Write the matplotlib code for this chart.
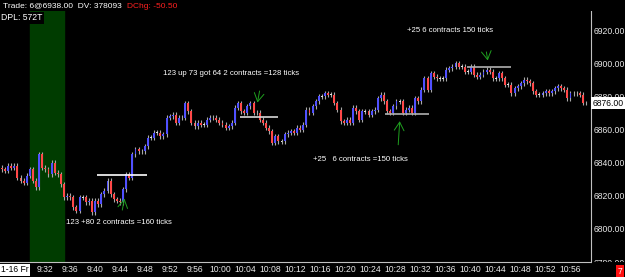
import matplotlib
matplotlib.use("Agg")
import matplotlib.pyplot as plt
from matplotlib.patches import Rectangle

# closing price of each tick bar left to right
closes = [6836, 6835, 6838, 6837, 6838, 6831, 6829, 6828, 6832, 6836,
          6829, 6825, 6845, 6837, 6836, 6833, 6840, 6834, 6833, 6827,
          6819, 6820, 6819, 6813, 6811, 6819, 6819, 6816, 6817, 6810,
          6817, 6815, 6821, 6823, 6829, 6821, 6818, 6817, 6816, 6824,
          6833, 6831, 6845, 6848, 6847, 6847, 6850, 6855, 6855, 6858,
          6858, 6856, 6857, 6867, 6868, 6869, 6864, 6867, 6867, 6876,
          6871, 6864, 6862, 6864, 6863, 6863, 6866, 6867, 6867, 6866,
          6864, 6863, 6861, 6862, 6864, 6873, 6876, 6871, 6870, 6874,
          6876, 6870, 6870, 6866, 6864, 6861, 6859, 6852, 6856, 6853,
          6853, 6857, 6858, 6859, 6858, 6861, 6860, 6863, 6872, 6870,
          6874, 6877, 6880, 6880, 6882, 6881, 6881, 6876, 6872, 6865,
          6864, 6866, 6864, 6873, 6871, 6866, 6871, 6871, 6869, 6871,
          6872, 6879, 6881, 6877, 6871, 6870, 6874, 6877, 6877, 6870,
          6872, 6873, 6870, 6879, 6877, 6884, 6891, 6884, 6894, 6892,
          6891, 6891, 6891, 6896, 6897, 6898, 6900, 6898, 6898, 6895,
          6895, 6898, 6893, 6892, 6893, 6895, 6896, 6895, 6891, 6891,
          6894, 6891, 6887, 6887, 6882, 6885, 6886, 6888, 6890, 6889,
          6888, 6883, 6881, 6881, 6882, 6883, 6882, 6883, 6885, 6886,
          6885, 6884, 6879, 6882, 6882, 6882, 6881, 6876, 6876]
first_open = 6837
wick = 1.5

price_ticks = [6780, 6800, 6820, 6840, 6860, 6880, 6900, 6920]
time_labels = ["9:32", "9:36", "9:40", "9:44", "9:48", "9:52", "9:56", "10:00",
               "10:04", "10:08", "10:12", "10:16", "10:20", "10:24", "10:28",
               "10:32", "10:36", "10:40", "10:44", "10:48", "10:52", "10:56"]
time_bars = [13.8, 21.9, 29.9, 38.0, 46.0, 54.1, 62.1, 70.2, 78.2, 86.3, 94.3,
             102.4, 110.4, 118.5, 126.5, 134.6, 142.6, 150.7, 158.7, 166.8,
             174.8, 182.9]

# trade markers: (level, first bar, last bar, colour)
levels = [(6832.5, 30.6, 46.7, "#ffffff"),
          (6867.3, 76.6, 88.9, "#d8d8d8"),
          (6869.1, 123.3, 137.5, "#b0b0b0"),
          (6897.6, 149.7, 163.9, "#b0b0b0")]
notes = [("123 +80 2 contracts =160 ticks", 20.6, 6803.7),
         ("123 up 73 got 64 2 contracts =128 ticks", 51.8, 6894.0),
         ("+25   6 contracts =150 ticks", 100.1, 6841.8),
         ("+25 6 contracts 150 ticks", 130.4, 6920.0)]
# arrows: (tail bar, tail price, tip bar, tip price)
arrows = [(38.6, 6809.7, 39.6, 6820.0),
          (83.1, 6884.9, 82.1, 6874.6),
          (127.5, 6849.1, 128.1, 6866.7),
          (155.8, 6908.5, 156.5, 6900.0)]

last_price = 6876.00
font = "Liberation Sans"

fig = plt.figure(figsize=(6.25, 2.77), dpi=100, facecolor="black")
ax = fig.add_axes([0, 15 / 277, 591 / 625, 262 / 277], facecolor="black")

n = len(closes)
opens = [first_open] + closes[:-1]
xs = list(range(n))

# session shading
ax.axvspan(8.9, 20.0, color="#003c00", zorder=0)

for i in xs:
    o, c = opens[i], closes[i]
    top, bot = max(o, c), min(o, c)
    ax.vlines(i, bot - wick, top + wick, color="#a8a8a8", lw=0.8, zorder=2)
    if c > o:
        col = "#5050ff"
    elif c < o:
        col = "#ff4848"
    else:
        col = "#e0e0e0"
    h = max(top - bot, 0.5)
    ax.bar(i, h, bottom=bot - (0.25 if top == bot else 0), width=0.62,
           color=col, zorder=3, linewidth=0)

for lev, a, b, col in levels:
    ax.hlines(lev, a, b, color=col, lw=1.2, zorder=4)

for txt, x, y in notes:
    ax.text(x, y, txt, color="white", fontsize=5.6, family=font,
            va="center", ha="left", zorder=5)

for x0, y0, x1, y1 in arrows:
    ax.annotate("", xy=(x1, y1), xytext=(x0, y0),
                arrowprops=dict(arrowstyle="->,head_length=0.6,head_width=0.35",
                                color="#1fa01f", lw=0.7), zorder=5)

ax.set_xlim(-0.6, n - 1 + 1.6)
ax.set_ylim(6780, 6938.2)

ax.yaxis.tick_right()
ax.set_yticks(price_ticks)
ax.set_yticklabels(["%.2f" % p for p in price_ticks])
ax.set_xticks(time_bars)
ax.set_xticklabels(time_labels)
ax.tick_params(axis="both", colors="#e8e8e8", labelsize=6.2, length=0, pad=2)
for lab in ax.get_xticklabels() + ax.get_yticklabels():
    lab.set_family(font)

for side in ["top", "left"]:
    ax.spines[side].set_visible(False)
ax.spines["right"].set_color("#c0c0c0")
ax.spines["bottom"].set_color("#c0c0c0")

# top info strip
fig.patches.append(Rectangle((0, 1 - 11 / 277), 1, 11 / 277, transform=fig.transFigure,
                             facecolor="black", zorder=5))
trade = fig.text(3 / 625, 1 - 6 / 277, "Trade: 6@6938.00  DV: 378093", color="white",
                 fontsize=6.0, family=font, va="center", zorder=6)
fig.add_artist(plt.Annotation("DChg: -50.50", xy=(1, 0.5), xycoords=trade,
                              xytext=(4, 0), textcoords="offset points",
                              color="#ff2020", fontsize=6.0, family=font,
                              va="center", zorder=6))
fig.text(1 / 625, 1 - 18 / 277, "DPL: 572T", color="white", fontsize=6.2,
         family=font, va="center", zorder=6,
         bbox=dict(facecolor="black", edgecolor="none", pad=1.2))

# bottom-left date box, bottom-right counter, last price tag
fig.text(1 / 625, 7 / 277, "1-16 Fr", color="black", fontsize=6.2, family=font,
         va="center", zorder=6,
         bbox=dict(facecolor="white", edgecolor="none", pad=1.0))
fig.patches.append(Rectangle((592 / 625, 0), 33 / 625, 15 / 277, transform=fig.transFigure,
                             facecolor="black", zorder=5))
fig.text(620 / 625, 6 / 277, "7", color="white", fontsize=6.2, family=font,
         ha="center", va="center", zorder=6,
         bbox=dict(facecolor="#ff1010", edgecolor="none", pad=1.3))
ax.text(1.002, last_price, "%.2f" % last_price, transform=ax.get_yaxis_transform(),
        color="black", fontsize=6.2, family=font, va="center", ha="left", zorder=6,
        clip_on=False, bbox=dict(facecolor="white", edgecolor="none", pad=1.0))

fig.savefig("out.png", dpi=100, facecolor="black")
